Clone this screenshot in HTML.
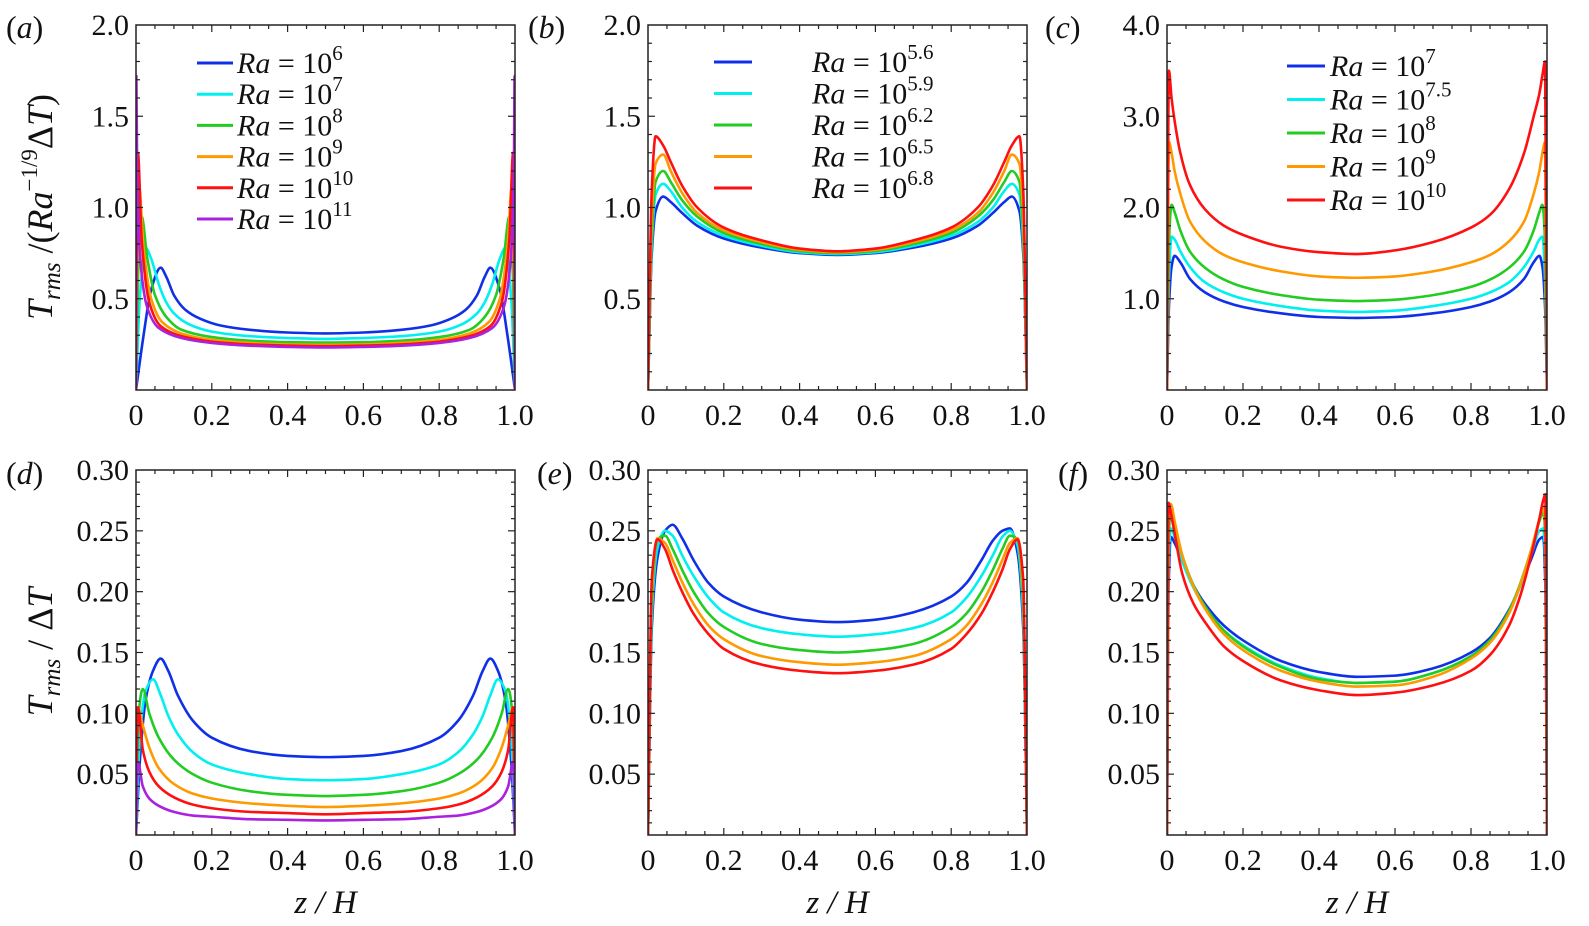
<!DOCTYPE html>
<html><head><meta charset="utf-8">
<style>
html,body{margin:0;padding:0;background:#fff;}
svg{display:block;font-family:"Liberation Serif","Times New Roman",serif;}
svg text{font-family:"Liberation Serif","Times New Roman",serif;}
</style></head>
<body>
<svg id="fig" width="1589" height="926" viewBox="0 0 1589 926" xmlns="http://www.w3.org/2000/svg" font-family="Liberation Serif, serif"></svg>
<script>
// ---------- data ----------
const xTickLabels = ["0","0.2","0.4","0.6","0.8","1.0"];
const xTickValues = [0,0.2,0.4,0.6,0.8,1.0];
const yTicksA = [0.5,1.0,1.5,2.0];
const yTickLabelsA = ["0.5","1.0","1.5","2.0"];
const yTicksC = [1,2,3,4];
const yTickLabelsC = ["1.0","2.0","3.0","4.0"];
const yTicksD = [0.05,0.10,0.15,0.20,0.25,0.30];
const yTickLabelsD = ["0.05","0.10","0.15","0.20","0.25","0.30"];
const colors = ["#1030e8","#00f0f0","#22cc22","#ff9900","#ff1010","#aa22dd"];

// panel a
const zA1 = [0,0.02,0.04,0.065,0.08,0.1,0.13,0.17,0.22,0.3,0.4,0.5,0.6,0.7,0.78,0.83,0.87,0.9,0.92,0.935,0.96,0.98,1];
const vA1 = [0,0.3,0.55,0.67,0.62,0.52,0.44,0.39,0.355,0.33,0.315,0.31,0.315,0.33,0.355,0.39,0.44,0.52,0.62,0.67,0.55,0.3,0];
const zA2 = [0,0.01,0.025,0.04,0.06,0.08,0.1,0.14,0.2,0.3,0.4,0.5,0.6,0.7,0.8,0.86,0.9,0.92,0.94,0.96,0.975,0.99,1];
const vA2 = [0,0.5,0.78,0.72,0.58,0.48,0.42,0.36,0.32,0.295,0.285,0.28,0.285,0.295,0.32,0.36,0.42,0.48,0.58,0.72,0.78,0.5,0];
const zA3 = [0,0.005,0.015,0.03,0.05,0.08,0.12,0.2,0.3,0.4,0.5,0.6,0.7,0.8,0.88,0.92,0.95,0.97,0.985,0.995,1];
const vA3 = [0,0.6,0.95,0.72,0.52,0.4,0.33,0.29,0.27,0.262,0.26,0.262,0.27,0.29,0.33,0.4,0.52,0.72,0.95,0.6,0];
const zA4 = [0,0.003,0.008,0.02,0.04,0.07,0.12,0.2,0.3,0.4,0.5,0.6,0.7,0.8,0.88,0.93,0.96,0.98,0.992,0.997,1];
const vA4 = [0,0.7,1.12,0.78,0.5,0.37,0.31,0.275,0.258,0.25,0.248,0.25,0.258,0.275,0.31,0.37,0.5,0.78,1.12,0.7,0];
const zA5 = [0,0.002,0.005,0.015,0.035,0.065,0.12,0.2,0.3,0.4,0.5,0.6,0.7,0.8,0.88,0.935,0.965,0.985,0.995,0.998,1];
const vA5 = [0,0.8,1.3,0.82,0.48,0.35,0.295,0.265,0.25,0.243,0.24,0.243,0.25,0.265,0.295,0.35,0.48,0.82,1.3,0.8,0];
const zA6 = [0,0.001,0.003,0.012,0.03,0.06,0.12,0.2,0.3,0.4,0.5,0.6,0.7,0.8,0.88,0.94,0.97,0.988,0.997,0.999,1];
const vA6 = [0,1.72,1.2,0.7,0.45,0.34,0.285,0.258,0.243,0.236,0.233,0.236,0.243,0.258,0.285,0.34,0.45,0.7,1.2,1.72,0];

// panel b
const zB = [0,0.01,0.02,0.04,0.06,0.09,0.13,0.2,0.3,0.4,0.5,0.6,0.7,0.8,0.87,0.91,0.94,0.96,0.98,0.99,1];
const vB1 = [0,0.75,0.98,1.06,1.03,0.97,0.9,0.83,0.78,0.75,0.74,0.75,0.78,0.83,0.9,0.97,1.03,1.06,0.98,0.75,0];
const vB2 = [0,0.8,1.07,1.13,1.09,1.0,0.92,0.845,0.79,0.755,0.745,0.755,0.79,0.845,0.92,1.0,1.09,1.13,1.07,0.8,0];
const vB3 = [0,0.85,1.14,1.2,1.14,1.04,0.95,0.86,0.8,0.762,0.75,0.762,0.8,0.86,0.95,1.04,1.14,1.2,1.14,0.85,0];
const vB4 = [0,0.95,1.24,1.29,1.2,1.08,0.97,0.875,0.81,0.768,0.755,0.768,0.81,0.875,0.97,1.08,1.2,1.29,1.24,0.95,0];
const vB5 = [0,1.1,1.39,1.34,1.25,1.12,1.0,0.89,0.82,0.775,0.76,0.775,0.82,0.89,1.0,1.12,1.25,1.34,1.39,1.1,0];

// panel c
const zC = [0,0.005,0.012,0.02,0.035,0.06,0.1,0.15,0.2,0.3,0.4,0.5,0.6,0.7,0.8,0.85,0.9,0.94,0.965,0.98,0.988,0.995,1];
const vC1 = [0,0.9,1.35,1.47,1.4,1.22,1.07,0.97,0.91,0.84,0.8,0.79,0.8,0.84,0.91,0.97,1.07,1.22,1.4,1.47,1.35,0.9,0];
const vC2 = [0,1.2,1.68,1.65,1.52,1.35,1.18,1.07,1.0,0.92,0.87,0.855,0.87,0.92,1.0,1.07,1.18,1.35,1.52,1.65,1.68,1.2,0];
const vC3 = [0,1.6,2.03,1.95,1.75,1.52,1.34,1.21,1.13,1.04,0.99,0.975,0.99,1.04,1.13,1.21,1.34,1.52,1.75,1.95,2.03,1.6,0];
const vC4 = [0,2.72,2.6,2.4,2.15,1.85,1.63,1.48,1.4,1.3,1.245,1.23,1.245,1.3,1.4,1.48,1.63,1.85,2.15,2.4,2.6,2.72,0];
const vC5 = [0,3.5,3.2,2.95,2.6,2.25,1.98,1.8,1.7,1.57,1.51,1.49,1.53,1.62,1.78,1.92,2.2,2.6,3.0,3.25,3.45,3.6,0];

// panel d
const zD = [0,0.01,0.025,0.045,0.065,0.085,0.11,0.15,0.2,0.3,0.4,0.5,0.6,0.7,0.8,0.85,0.89,0.915,0.935,0.955,0.975,0.99,1];
const vD1 = [0,0.06,0.11,0.135,0.145,0.135,0.115,0.094,0.08,0.069,0.065,0.064,0.065,0.069,0.08,0.094,0.115,0.135,0.145,0.135,0.11,0.06,0];
const vD2 = [0,0.08,0.118,0.128,0.115,0.098,0.083,0.068,0.058,0.05,0.046,0.045,0.046,0.05,0.058,0.068,0.083,0.098,0.115,0.128,0.118,0.08,0];
const zD2 = [0,0.005,0.018,0.035,0.06,0.1,0.15,0.2,0.3,0.4,0.5,0.6,0.7,0.8,0.85,0.9,0.94,0.965,0.982,0.995,1];
const vD3 = [0,0.09,0.12,0.1,0.08,0.062,0.05,0.043,0.036,0.033,0.032,0.033,0.036,0.043,0.05,0.062,0.08,0.1,0.12,0.09,0];
const vD4 = [0,0.105,0.09,0.072,0.055,0.042,0.034,0.03,0.026,0.024,0.023,0.024,0.026,0.03,0.034,0.042,0.055,0.072,0.09,0.105,0];
const vD5 = [0,0.105,0.07,0.052,0.04,0.031,0.025,0.022,0.019,0.018,0.017,0.018,0.019,0.022,0.025,0.031,0.04,0.052,0.07,0.105,0];
const vD6 = [0,0.06,0.04,0.03,0.024,0.019,0.016,0.015,0.013,0.0125,0.012,0.0125,0.013,0.015,0.016,0.019,0.024,0.03,0.04,0.06,0];

// panel e
const zE = [0,0.01,0.025,0.045,0.065,0.09,0.12,0.16,0.2,0.3,0.4,0.5,0.6,0.7,0.8,0.84,0.88,0.91,0.935,0.955,0.975,0.99,1];
const vE1 = [0,0.17,0.228,0.25,0.255,0.244,0.226,0.207,0.196,0.183,0.177,0.175,0.177,0.183,0.196,0.207,0.226,0.242,0.25,0.252,0.232,0.17,0];
const vE2 = [0,0.18,0.236,0.25,0.246,0.23,0.213,0.195,0.183,0.17,0.165,0.163,0.165,0.17,0.183,0.195,0.213,0.23,0.245,0.25,0.238,0.18,0];
const vE3 = [0,0.19,0.243,0.246,0.235,0.218,0.2,0.182,0.171,0.157,0.152,0.15,0.152,0.157,0.171,0.182,0.2,0.218,0.235,0.246,0.243,0.19,0];
const vE4 = [0,0.2,0.244,0.24,0.226,0.208,0.19,0.172,0.161,0.147,0.142,0.14,0.142,0.147,0.161,0.172,0.19,0.208,0.226,0.24,0.244,0.2,0];
const vE5 = [0,0.21,0.243,0.235,0.218,0.2,0.182,0.165,0.153,0.14,0.135,0.133,0.135,0.14,0.153,0.165,0.182,0.2,0.218,0.235,0.243,0.21,0];

// panel f
const zF = [0,0.004,0.01,0.02,0.04,0.07,0.1,0.15,0.2,0.3,0.4,0.5,0.6,0.7,0.8,0.85,0.9,0.93,0.96,0.98,0.99,0.996,1];
const vF1 = [0,0.2,0.245,0.24,0.225,0.205,0.19,0.172,0.16,0.143,0.134,0.13,0.131,0.137,0.15,0.162,0.185,0.205,0.228,0.243,0.245,0.2,0];
const vF2 = [0,0.22,0.252,0.245,0.225,0.203,0.187,0.168,0.156,0.139,0.129,0.125,0.126,0.133,0.147,0.16,0.183,0.205,0.232,0.25,0.252,0.22,0];
const vF3 = [0,0.24,0.265,0.255,0.23,0.205,0.188,0.168,0.155,0.138,0.128,0.125,0.126,0.133,0.147,0.16,0.184,0.207,0.236,0.258,0.265,0.24,0];
const vF4 = [0,0.26,0.272,0.258,0.23,0.204,0.186,0.165,0.152,0.135,0.126,0.122,0.123,0.13,0.145,0.158,0.182,0.206,0.236,0.26,0.27,0.25,0];
const vF5 = [0,0.273,0.265,0.248,0.215,0.19,0.175,0.155,0.143,0.127,0.119,0.115,0.117,0.123,0.135,0.148,0.172,0.197,0.232,0.26,0.275,0.28,0];

const legendA = [["6"],["7"],["8"],["9"],["10"],["11"]];
const legendB = [["5.6"],["5.9"],["6.2"],["6.5"],["6.8"]];
const legendC = [["7"],["7.5"],["8"],["9"],["10"]];

// ---------- drawing ----------
const NS = "http://www.w3.org/2000/svg";
const FONT = '"Liberation Serif", "Times New Roman", serif';
const svg = document.getElementById("fig");
function mk(tag, attrs, parent){
  const e = document.createElementNS(NS, tag);
  for (const k in attrs) e.setAttribute(k, attrs[k]);
  if (tag === "text") e.setAttribute("font-family", FONT);
  (parent||svg).appendChild(e);
  return e;
}
function spline(pts){
  const n = pts.length;
  const h = [], s = [];
  for (let i=0;i<n-1;i++){ h.push(pts[i+1][0]-pts[i][0]); s.push((pts[i+1][1]-pts[i][1])/(h[i]||1e-6)); }
  const m = new Array(n);
  m[0]=s[0]; m[n-1]=s[n-2];
  for (let i=1;i<n-1;i++){
    if (s[i-1]*s[i] <= 0) m[i]=0;
    else { const w1=2*h[i]+h[i-1], w2=h[i]+2*h[i-1]; m[i]=(w1+w2)/(w1/s[i-1]+w2/s[i]); }
  }
  let d = "M" + pts[0][0].toFixed(2) + "," + pts[0][1].toFixed(2);
  for (let i=0;i<n-1;i++){
    const dx=h[i]/3;
    d += " C"+(pts[i][0]+dx).toFixed(2)+","+(pts[i][1]+m[i]*dx).toFixed(2)+" "+(pts[i+1][0]-dx).toFixed(2)+","+(pts[i+1][1]-m[i+1]*dx).toFixed(2)+" "+pts[i+1][0].toFixed(2)+","+pts[i+1][1].toFixed(2);
  }
  return d;
}

function panel(cfg){
  const {id,x0,x1,y0,y1,ymax,yTicks,yLabels,minor,series,label,xtitle} = cfg;
  const g = mk("g",{});
  
  
  const X = v => x0 + v*(x1-x0);
  const Y = v => y1 - v/ymax*(y1-y0);
  const cp = mk("clipPath",{id:"clip-"+id},g);
  mk("rect",{x:x0,y:y0,width:x1-x0,height:y1-y0},cp);
  const sg = mk("g",{"clip-path":"url(#clip-"+id+")"},g);
  series.forEach((s,i)=>{
    const pts = s.z.map((z,k)=>[X(z),Y(s.v[k])]);
    const p = mk("path",{d:spline(pts),fill:"none",stroke:colors[s.c],"stroke-width":2.6,"stroke-linejoin":"round"},sg);
    
    
  });
  const fr = mk("rect",{x:x0,y:y0,width:x1-x0,height:y1-y0,fill:"none",stroke:"#222","stroke-width":1.5},g);
  
  
  for (let k=1;k<20;k++){
    const v=k*0.05, major=(k%4===0), L=major?7:4;
    mk("line",{x1:X(v),x2:X(v),y1:y1,y2:y1-L,stroke:"#222","stroke-width":1.2},g);
    mk("line",{x1:X(v),x2:X(v),y1:y0,y2:y0+L,stroke:"#222","stroke-width":1.2},g);
  }
  xTickValues.forEach((v,i)=>{
    const t = mk("text",{x:X(v),y:y1+35,"text-anchor":"middle","font-size":30,fill:"#111"},g);
    t.textContent = xTickLabels[i];
    
    
  });
  for (let v=minor; v<ymax-1e-9; v+=minor){
    const major = yTicks.some(t=>Math.abs(t-v)<1e-6), L=major?7:4;
    mk("line",{x1:x0,x2:x0+L,y1:Y(v),y2:Y(v),stroke:"#222","stroke-width":1.2},g);
    mk("line",{x1:x1,x2:x1-L,y1:Y(v),y2:Y(v),stroke:"#222","stroke-width":1.2},g);
  }
  yTicks.forEach((v,i)=>{
    const t = mk("text",{x:x0-7,y:Y(v)+10,"text-anchor":"end","font-size":30,fill:"#111"},g);
    t.textContent = yLabels[i];
    
    
  });
  const pl = mk("text",{x:label.x,y:label.y,"font-size":32,fill:"#111"},g);
  pl.innerHTML = '(<tspan font-style="italic">'+id+'</tspan>)';
  
  
  if (xtitle){
    const xt = mk("text",{x:(x0+x1)/2,y:y1+78,"text-anchor":"middle","font-size":33,"font-style":"italic",fill:"#111"},g);
    xt.textContent = "z / H";
    
    
  }
  return {X,Y,g};
}
function legend(g, id, items, lx, ly, dy, lineW, textX){
  items.forEach((it,i)=>{
    const y = ly + i*dy;
    const ln = mk("line",{x1:lx,x2:lx+lineW,y1:y,y2:y,stroke:colors[i],"stroke-width":3},g);
    
    
    const t = mk("text",{x:textX,y:y+10,"font-size":30,fill:"#111"},g);
    t.innerHTML = '<tspan font-style="italic">Ra</tspan> = 10<tspan dy="-13" font-size="21">'+it[0]+'</tspan>';
    
    
  });
}

const TY0=25, TY1=390, BY0=470, BY1=835;
const PX = [[136,515],[648,1027],[1167,1547]];

const pa = panel({id:"a",x0:PX[0][0],x1:PX[0][1],y0:TY0,y1:TY1,ymax:2,yTicks:yTicksA,yLabels:yTickLabelsA,minor:0.1,label:{x:6,y:38},
  series:[{z:zA1,v:vA1,c:0},{z:zA2,v:vA2,c:1},{z:zA3,v:vA3,c:2},{z:zA4,v:vA4,c:3},{z:zA5,v:vA5,c:4},{z:zA6,v:vA6,c:5}]});
legend(pa.g,"a",legendA,197,63,31.2,36,237);

const pb = panel({id:"b",x0:PX[1][0],x1:PX[1][1],y0:TY0,y1:TY1,ymax:2,yTicks:yTicksA,yLabels:yTickLabelsA,minor:0.1,label:{x:528,y:38},
  series:[{z:zB,v:vB1,c:0},{z:zB,v:vB2,c:1},{z:zB,v:vB3,c:2},{z:zB,v:vB4,c:3},{z:zB,v:vB5,c:4}]});
legend(pb.g,"b",legendB,714,62,31.5,38,812);

const pc = panel({id:"c",x0:PX[2][0],x1:PX[2][1],y0:TY0,y1:TY1,ymax:4,yTicks:yTicksC,yLabels:yTickLabelsC,minor:0.2,label:{x:1045,y:38},
  series:[{z:zC,v:vC1,c:0},{z:zC,v:vC2,c:1},{z:zC,v:vC3,c:2},{z:zC,v:vC4,c:3},{z:zC,v:vC5,c:4}]});
legend(pc.g,"c",legendC,1287,66,33.5,38,1330);

const pd = panel({id:"d",x0:PX[0][0],x1:PX[0][1],y0:BY0,y1:BY1,ymax:0.3,yTicks:yTicksD,yLabels:yTickLabelsD,minor:0.01,label:{x:6,y:484},xtitle:true,
  series:[{z:zD,v:vD1,c:0},{z:zD,v:vD2,c:1},{z:zD2,v:vD3,c:2},{z:zD2,v:vD4,c:3},{z:zD2,v:vD5,c:4},{z:zD2,v:vD6,c:5}]});
const pe = panel({id:"e",x0:PX[1][0],x1:PX[1][1],y0:BY0,y1:BY1,ymax:0.3,yTicks:yTicksD,yLabels:yTickLabelsD,minor:0.01,label:{x:537,y:484},xtitle:true,
  series:[{z:zE,v:vE1,c:0},{z:zE,v:vE2,c:1},{z:zE,v:vE3,c:2},{z:zE,v:vE4,c:3},{z:zE,v:vE5,c:4}]});
const pf = panel({id:"f",x0:PX[2][0],x1:PX[2][1],y0:BY0,y1:BY1,ymax:0.3,yTicks:yTicksD,yLabels:yTickLabelsD,minor:0.01,label:{x:1058,y:484},xtitle:true,
  series:[{z:zF,v:vF1,c:0},{z:zF,v:vF2,c:1},{z:zF,v:vF3,c:2},{z:zF,v:vF4,c:3},{z:zF,v:vF5,c:4}]});

const ya = mk("text",{transform:"translate(52,207) rotate(-90)","text-anchor":"middle","font-size":36,fill:"#111"});
ya.innerHTML = '<tspan font-style="italic">T</tspan><tspan font-style="italic" font-size="25" dy="8">rms</tspan><tspan dy="-8"> /(</tspan><tspan font-style="italic">Ra</tspan><tspan font-size="23" dy="-15">−1/9</tspan><tspan dy="15">Δ</tspan><tspan font-style="italic">T</tspan><tspan>)</tspan>';


const yd = mk("text",{transform:"translate(52,652) rotate(-90)","text-anchor":"middle","font-size":36,fill:"#111"});
yd.innerHTML = '<tspan font-style="italic">T</tspan><tspan font-style="italic" font-size="25" dy="8">rms</tspan><tspan dy="-8"> / Δ</tspan><tspan font-style="italic">T</tspan>';


</script>
</body></html>
